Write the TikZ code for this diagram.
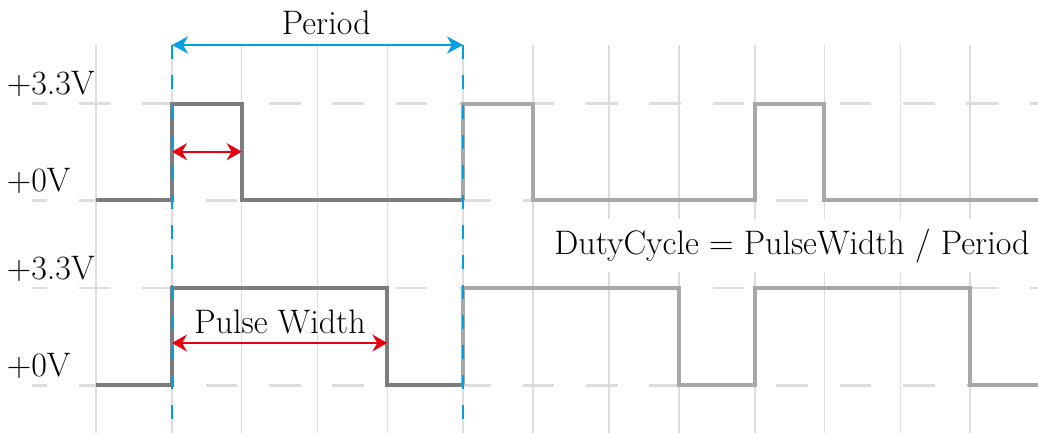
\documentclass[tikz,border=0pt]{standalone}
\usepackage{fontspec}
\usetikzlibrary{arrows.meta}
\definecolor{gridc}{RGB}{221,221,221}
\definecolor{sigdark}{RGB}{125,125,125}
\definecolor{siglight}{RGB}{168,168,168}
\definecolor{perblue}{RGB}{0,160,227}
\definecolor{pwred}{RGB}{230,0,18}
\begin{document}
\begin{tikzpicture}[x=0.5pt,y=-0.5pt,
  font=\fontsize{17}{20}\selectfont,
  gridline/.style={draw=gridc,line width=0.65pt},
  levelline/.style={draw=gridc,line width=1.3pt,dash pattern=on 15.85pt off 15.85pt,dash phase=8.35pt},
  sigA/.style={draw=sigdark,line width=2pt,line join=miter},
  sigB/.style={draw=siglight,line width=2pt,line join=miter},
  perline/.style={draw=perblue,line width=1.2pt,dash pattern=on 7pt off 8pt},
  perarrow/.style={draw=perblue,line width=1.2pt,{Stealth[length=8pt,width=8.5pt,inset=2.5pt]}-{Stealth[length=8pt,width=8.5pt,inset=2.5pt]}},
  pwarrow/.style={draw=pwred,line width=1.2pt,{Stealth[length=7.5pt,width=8.5pt,inset=2.5pt]}-{Stealth[length=7.5pt,width=8.5pt,inset=2.5pt]}},
  lbl/.style={inner sep=0pt,anchor=base west},
  txt/.style={inner sep=0pt,anchor=base}]
\useasboundingbox (0,0) rectangle (1038,433);
% grid
\foreach \x in {96,172,241.7,317.7,387.3,463,533,609,679,755,824.3,900.7,970}
  \draw[gridline] (\x,45) -- (\x,433);
\foreach \y in {103.7,200.3,288,385.3}
  \draw[levelline] (32,\y) -- (1040,\y);
% signal 1
\coordinate (a0) at (96,200.3);
\coordinate (a1) at (172,200.3);
\coordinate (a2) at (172,103.7);
\coordinate (a3) at (241.7,103.7);
\coordinate (a4) at (241.7,200.3);
\coordinate (a5) at (463,200.3);
\coordinate (a6) at (463,103.7);
\coordinate (a7) at (533,103.7);
\coordinate (a8) at (533,200.3);
\coordinate (a9) at (755,200.3);
\coordinate (a10) at (755,103.7);
\coordinate (a11) at (824.3,103.7);
\coordinate (a12) at (824.3,200.3);
\coordinate (a13) at (1040,200.3);
\draw[sigB] (a5) -- (a6) -- (a7) -- (a8) -- (a9) -- (a10) -- (a11) -- (a12) -- (a13);
\draw[sigA] (a0) -- (a1) -- (a2) -- (a3) -- (a4) -- (a5);
% signal 2
\coordinate (b0) at (96,385.3);
\coordinate (b1) at (172,385.3);
\coordinate (b2) at (172,288);
\coordinate (b3) at (387.3,288);
\coordinate (b4) at (387.3,385.3);
\coordinate (b5) at (463,385.3);
\coordinate (b6) at (463,288);
\coordinate (b7) at (679,288);
\coordinate (b8) at (679,385.3);
\coordinate (b9) at (755,385.3);
\coordinate (b10) at (755,288);
\coordinate (b11) at (970,288);
\coordinate (b12) at (970,385.3);
\coordinate (b13) at (1040,385.3);
\draw[sigB] (b5) -- (b6) -- (b7) -- (b8) -- (b9) -- (b10) -- (b11) -- (b12) -- (b13);
\draw[sigA] (b0) -- (b1) -- (b2) -- (b3) -- (b4) -- (b5);
% period markers
\coordinate (p1t) at (172,45);
\coordinate (p1b) at (172,433);
\coordinate (p2t) at (463,45);
\coordinate (p2b) at (463,433);
\draw[perline] (p1t) -- (p1b);
\draw[perline] (p2t) -- (p2b);
\draw[perarrow] (p1t) -- (p2t);
\node[txt] (period) at (326.3,35) {Period};
% pulse widths
\coordinate (w1a) at (172,151.7);
\coordinate (w1b) at (241.7,151.7);
\draw[pwarrow] (w1a) -- (w1b);
\coordinate (w2a) at (172,343);
\coordinate (w2b) at (387.3,343);
\draw[pwarrow] (w2a) -- (w2b);
\node[txt] (pw) at (280,333) {Pulse Width};
% level labels
\node[lbl] (h1) at (6.5,94.7) {+3.3V};
\node[lbl] (l1) at (6.5,191.3) {+0V};
\node[lbl] (h2) at (6.5,279) {+3.3V};
\node[lbl] (l2) at (6.5,376.3) {+0V};
% formula
\node[anchor=base,fill=white,inner xsep=4pt,inner ysep=4.75pt] (duty) at (792,254) {DutyCycle = PulseWidth / Period};
\end{tikzpicture}
\end{document}
